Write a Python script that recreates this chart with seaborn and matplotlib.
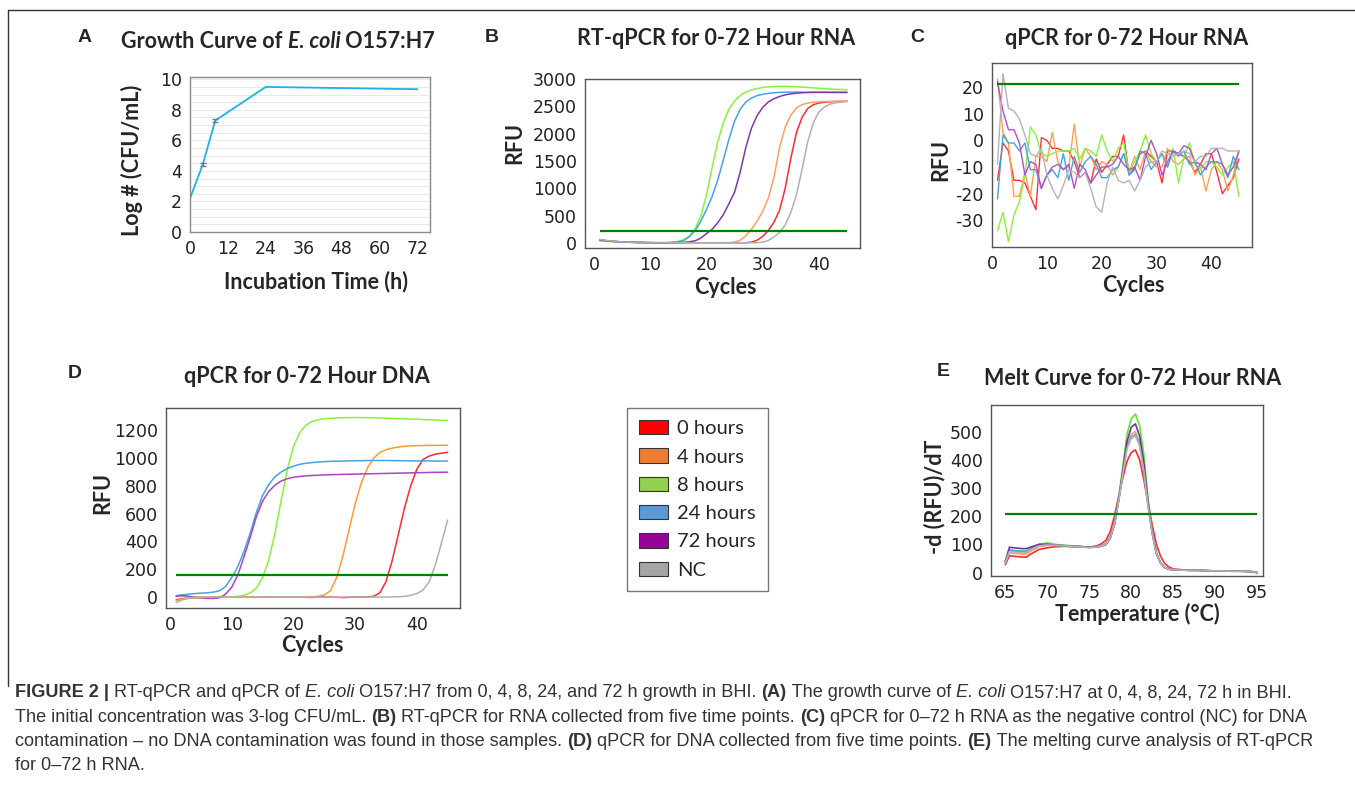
import numpy as np
import pandas as pd
import matplotlib
matplotlib.use("Agg")
import matplotlib.pyplot as plt
import seaborn as sns
from matplotlib import font_manager
from matplotlib.patches import Patch

# ---------------- data ----------------
samples = ["0 hours", "4 hours", "8 hours", "24 hours", "72 hours", "NC"]

# (A) growth curve
hours = [0, 4, 8, 24, 72]
log_cfu = [2.2, 4.4, 7.3, 9.5, 9.35]
log_err = [0.0, 0.1, 0.1, 0.0, 0.0]

cycles = list(range(1, 46))

# (B) RT-qPCR, RFU per cycle
b_0h = [55, 42, 32, 25, 19, 14, 11, 8, 6, 5, 4, 4, 4, 4, 4, 4, 4, 4, 4, 4,
        4, 4, 4, 4, 4, 4, 5, 15, 50, 120, 230, 380, 600, 1000, 1550, 2020, 2300, 2460, 2530, 2560,
        2575, 2583, 2588, 2590, 2592]
b_4h = [45, 35, 27, 21, 16, 12, 10, 8, 6, 5, 4, 4, 4, 4, 4, 4, 4, 4, 4, 4,
        4, 4, 4, 5, 15, 50, 130, 250, 400, 580, 820, 1200, 1750, 2120, 2340, 2470, 2530, 2560, 2575, 2582,
        2587, 2590, 2592, 2593, 2593]
b_8h = [40, 32, 26, 22, 18, 15, 12, 10, 8, 6, 5, 5, 6, 12, 28, 60, 130, 260, 500, 880,
        1380, 1850, 2200, 2450, 2600, 2700, 2760, 2800, 2825, 2845, 2855, 2862, 2865, 2865, 2862, 2858, 2852, 2845, 2838, 2830,
        2823, 2817, 2812, 2808, 2805]
b_24h = [50, 38, 30, 24, 19, 15, 12, 10, 8, 6, 5, 5, 6, 10, 22, 48, 120, 230, 400, 610,
         850, 1150, 1520, 1900, 2230, 2450, 2580, 2650, 2695, 2720, 2737, 2748, 2755, 2758, 2760, 2760, 2759, 2758, 2757, 2756,
         2755, 2754, 2753, 2752, 2752]
b_72h = [60, 45, 34, 26, 20, 15, 12, 10, 8, 6, 5, 5, 5, 6, 8, 12, 22, 40, 90, 170,
         250, 370, 520, 720, 930, 1300, 1750, 2100, 2330, 2480, 2580, 2640, 2680, 2710, 2728, 2740, 2748, 2752, 2755, 2756,
         2757, 2757, 2757, 2757, 2757]
b_nc = [65, 48, 36, 27, 20, 15, 11, 8, 6, 5, 4, 4, 4, 4, 4, 4, 4, 4, 4, 4,
        4, 4, 4, 4, 4, 4, 4, 4, 5, 15, 45, 110, 190, 330, 560, 880, 1350, 1850, 2200, 2400,
        2490, 2540, 2565, 2580, 2590]
b_threshold = 215

# (C) qPCR of RNA (no DNA), RFU per cycle
c_0h = [-15, -1, -4, -15, -15, -16, -21, -26, 1, 0, -3, -3, -4, -4, -8, -14, -12, -16, -7, -12,
        -9, -6, -6, 2, -13, -10, -5, -4, -6, -8, -16, -4, -4, -5, -6, -8, -12, -9, -5, -5,
        -12, -20, -17, -14, -7]
c_4h = [23, 3, -1, -21, -21, -12, -21, -6, -6, -8, 3, -8, -11, -10, 6, -10, -3, -6, -11, -8,
        -9, -13, -10, -5, -12, -6, -11, -4, -8, -10, -10, -3, -8, -9, -7, -6, -13, -10, -19, -11,
        -8, -11, -19, -13, -4]
c_8h = [-34, -27, -38, -28, -23, -13, 5, 2, -5, -6, -5, -4, -4, -4, -3, -7, -3, -4, -6, 2,
        -4, -8, -3, -1, -12, -8, -4, 2, -5, -8, -5, -10, -3, -16, -6, -1, -9, -11, -8, -8,
        -10, -13, -10, -8, -21]
c_24h = [-22, 2, -1, -1, -4, -1, -11, -11, -18, -13, -11, -14, -5, -15, -6, -12, -8, -6, -9, -14,
         -14, -11, -10, -5, -13, -11, -4, -5, -11, -8, -5, -10, -4, -6, -4, -9, -8, -13, -10, -8,
         -8, -9, -14, -6, -11]
c_72h = [22, 11, 4, 4, -1, -13, -8, -9, -18, -13, -10, -9, -11, -9, -18, -9, -11, -16, -13, -10,
         -10, -9, -6, -9, -11, -10, -15, -6, 0, -5, -13, -8, -4, -5, -2, -3, -8, -9, -11, -5,
         -3, -9, -13, -10, -4]
c_nc = [-9, 25, 12, 11, 8, 2, -5, -6, -3, -13, -18, -22, -17, -11, -12, -14, -12, -18, -25, -27,
        -16, -10, -15, -16, -15, -19, -15, -10, -8, -8, -4, -5, -6, -5, -4, -5, -8, -6, -6, -3,
        -3, -3, -4, -4, -4]
c_threshold = 21

# (D) qPCR of DNA, RFU per cycle
d_0h = [-20, -12, -6, -3, -2, -1, 0, 0, 1, 0, 0, 1, 0, -1, 0, 1, 0, 0, 0, 1,
        0, -2, -3, -1, 0, 0, -2, -4, -2, 0, 0, 1, 5, 30, 110, 260, 450, 640, 800, 920,
        990, 1015, 1028, 1036, 1042]
d_4h = [-25, -15, -8, -5, -3, -2, -1, 0, 0, 0, 0, 0, 1, 1, 0, -1, 0, 1, 0, 0,
        0, 1, 2, 5, 15, 45, 140, 290, 480, 670, 820, 930, 1000, 1040, 1060, 1072, 1080, 1085, 1088, 1090,
        1091, 1092, 1092, 1093, 1093]
d_8h = [5, 3, 0, -2, -3, -3, -2, -1, 0, 0, 5, 12, 30, 65, 140, 266, 457, 693, 917, 1082,
        1183, 1237, 1264, 1276, 1283, 1287, 1290, 1291, 1292, 1292, 1292, 1291, 1290, 1289, 1288, 1286, 1285, 1283, 1281, 1280,
        1278, 1276, 1275, 1273, 1272]
d_24h = [10, 15, 20, 25, 28, 30, 35, 45, 75, 140, 220, 330, 460, 610, 730, 810, 865, 900, 925, 942,
         955, 963, 968, 972, 975, 977, 978, 979, 980, 981, 982, 983, 983, 983, 983, 982, 982, 981, 981, 980,
         980, 980, 979, 979, 979]
d_72h = [5, 12, 5, -2, -6, -10, -10, -6, 20, 70, 160, 290, 430, 580, 690, 760, 805, 835, 852, 862,
         868, 872, 875, 877, 879, 881, 882, 883, 884, 885, 886, 887, 888, 889, 890, 891, 892, 893, 894, 895,
         896, 897, 898, 898, 899]
d_nc = [-40, -20, -10, -5, -3, -2, -1, 0, 0, 0, 0, 0, 0, 0, 0, 0, 0, 0, 0, 0,
        0, 0, 0, 0, 0, 0, -2, -1, 0, 0, 0, 0, 0, 0, 0, 1, 2, 5, 12, 25,
        50, 110, 230, 390, 555]
d_threshold = 160

# (E) melt curve, -d(RFU)/dT
temps = [65, 65.5, 66, 67, 67.5, 68, 69, 70, 71, 72, 73, 74, 75, 76,
         76.5, 77, 77.5, 78, 78.5, 79, 79.5, 80, 80.5, 81, 81.5, 82, 82.5, 83, 83.5, 84, 84.5, 85,
         86, 87, 88, 89, 90, 91, 92, 93, 94, 94.5, 95]
e_0h = [28, 60, 58, 55, 55, 65, 82, 88, 92, 93, 92, 91, 90, 96,
        103, 115, 145, 200, 270, 335, 395, 425, 435, 400, 330, 245, 170, 100, 58, 32, 20, 13,
        10, 9, 8, 7, 6, 6, 5, 5, 4, 3, 0]
e_4h = [35, 70, 68, 66, 66, 75, 92, 97, 96, 95, 93, 91, 89, 91,
        95, 102, 125, 172, 255, 355, 450, 490, 500, 460, 370, 240, 140, 68, 34, 18, 12, 10,
        9, 8, 8, 7, 6, 6, 5, 5, 4, 3, 0]
e_8h = [38, 80, 78, 76, 76, 85, 100, 105, 100, 97, 95, 93, 90, 92,
        96, 102, 125, 175, 265, 375, 490, 545, 562, 520, 420, 265, 150, 70, 35, 18, 12, 10,
        9, 8, 8, 7, 6, 6, 5, 5, 4, 3, 0]
e_24h = [37, 80, 78, 75, 75, 83, 97, 100, 98, 96, 94, 92, 89, 91,
         95, 101, 123, 170, 255, 355, 445, 480, 490, 455, 365, 240, 140, 68, 34, 18, 12, 10,
         9, 8, 8, 7, 6, 6, 5, 5, 4, 3, 0]
e_72h = [40, 90, 88, 85, 85, 90, 100, 100, 97, 95, 93, 92, 90, 91,
         94, 100, 122, 170, 255, 360, 465, 515, 527, 485, 390, 250, 145, 68, 34, 18, 12, 10,
         9, 8, 8, 7, 6, 6, 5, 5, 4, 3, 0]
e_nc = [36, 75, 73, 70, 70, 80, 95, 98, 97, 95, 93, 91, 89, 91,
        95, 101, 123, 170, 252, 350, 440, 475, 485, 450, 362, 238, 140, 68, 34, 18, 12, 10,
        9, 8, 8, 7, 6, 6, 5, 5, 4, 3, 0]
e_threshold = 206

legend_colors = ["#ff0000", "#ed7d31", "#92d050", "#5b9bd5", "#990099", "#a5a5a5"]


def long_df(x, series, yname):
    return pd.DataFrame({
        "x": list(x) * len(series),
        yname: sum(series, []),
        "sample": np.repeat(samples, len(x)),
    })


dfB = long_df(cycles, [b_0h, b_4h, b_8h, b_24h, b_72h, b_nc], "rfu")
dfC = long_df(cycles, [c_0h, c_4h, c_8h, c_24h, c_72h, c_nc], "rfu")
dfD = long_df(cycles, [d_0h, d_4h, d_8h, d_24h, d_72h, d_nc], "rfu")
dfE = long_df(temps, [e_0h, e_4h, e_8h, e_24h, e_72h, e_nc], "drfu")

# ---------------- figure ----------------
sns.set_style("white")
plt.rcParams["font.family"] = ["Lato", "DejaVu Sans"]
plt.rcParams["axes.unicode_minus"] = False

W, H = 1355, 789
fig = plt.figure(figsize=(W / 100, H / 100), dpi=100)
renderer = fig.canvas.get_renderer()

TITLE_FS = 15.5
LABEL_FS = 15.5


def px(x, y):
    return x / W, 1 - y / H


def add_box(left, top, right, bottom):
    return fig.add_axes([left / W, 1 - bottom / H, (right - left) / W, (bottom - top) / H])


def style_ax(ax, spine="#555555"):
    for s in ax.spines.values():
        s.set_color(spine)
        s.set_linewidth(1.0)
    ax.tick_params(direction="out", length=4, width=1, color=spine, pad=2, labelcolor="#222222",
                   labelsize=12.5)
    for lab in ax.get_xticklabels() + ax.get_yticklabels():
        lab.set_family(["DejaVu Sans"])


def run_width(txt, **kw):
    t = fig.text(0, 0, "|" + txt + "|", **kw)
    w1 = t.get_window_extent(renderer).width
    t.remove()
    t = fig.text(0, 0, "||", **kw)
    w2 = t.get_window_extent(renderer).width
    t.remove()
    return w1 - w2


def draw_runs(x, y, runs, center=False, **kw):
    widths = [run_width(s, fontweight=wt, fontstyle=st, **kw) for s, wt, st in runs]
    if center:
        x -= sum(widths) / 2
    for (s, wt, st), w in zip(runs, widths):
        fig.text(x / W, 1 - y / H, s, fontweight=wt, fontstyle=st, va="baseline", **kw)
        x += w
    return sum(widths)


def axis_labels(ax, box, xl, xc, yl, yc, fs=LABEL_FS):
    left, top, right, bottom = box
    ax.set_xlabel(xl, fontsize=fs, fontweight="bold", va="center")
    ax.set_ylabel(yl, fontsize=fs, fontweight="bold", va="center")
    ax.xaxis.set_label_coords((xc[0] - left) / (right - left), (bottom - xc[1]) / (bottom - top))
    ax.yaxis.set_label_coords((yc[0] - left) / (right - left), (bottom - yc[1]) / (bottom - top))


# frame lines around the figure panels
fig.add_artist(plt.Line2D([8 / W, 1], [1 - 10 / H, 1 - 10 / H], color="#333333", lw=1))
fig.add_artist(plt.Line2D([8 / W, 8 / W], [1 - 10 / H, 1 - 686 / H], color="#333333", lw=1))

# panel letters
for letter, (lx, ly) in zip("ABCDE", [(85, 37), (492, 37), (917, 38), (75, 373), (943, 372)]):
    fig.text(*px(lx, ly), letter, fontsize=14, fontweight="bold",
             family=["Liberation Sans", "DejaVu Sans"], ha="center", va="center")

# ---- A: growth curve ----
boxA = (190, 77, 430, 232)
axA = add_box(*boxA)
sns.lineplot(x=hours, y=log_cfu, ax=axA, color="#1fb0ea", lw=1.3)
err_idx = [i for i, e in enumerate(log_err) if e > 0]
axA.errorbar([hours[i] for i in err_idx], [log_cfu[i] for i in err_idx], yerr=[log_err[i] for i in err_idx],
             fmt="none", ecolor="#777777", elinewidth=0.8, capsize=2)
axA.set_xlim(0, 76)
axA.set_ylim(0, 10.15)
axA.set_xticks(range(0, 73, 12))
axA.set_yticks(range(0, 11, 2))
axA.set_yticks(np.arange(0, 10.1, 0.5), minor=True)
axA.grid(True, which="both", axis="y", color="#e8e8e8", lw=0.7)
axA.tick_params(which="minor", length=0)
style_ax(axA, "#8a8a8a")
axis_labels(axA, boxA, "Incubation Time (h)", (316, 282), "Log # (CFU/mL)", (132, 160))
draw_runs(278, 48, [("Growth Curve of ", "bold", "normal"),
                    ("E. coli", "bold", "italic"),
                    (" O157:H7", "bold", "normal")], center=True, fontsize=TITLE_FS)

# ---- B: RT-qPCR ----
boxB = (585, 79, 860, 248)
axB = add_box(*boxB)
palB = ["#ff2a2a", "#ff9f60", "#86f53a", "#42a5e0", "#7a3aae", "#b0b0b0"]
sns.lineplot(data=dfB, x="x", y="rfu", hue="sample", hue_order=samples, palette=palB,
             ax=axB, legend=False, lw=1.1, estimator=None)
axB.hlines(b_threshold, cycles[0], cycles[-1], color="#008000", lw=1.6)
axB.set_xlim(-1.6, 47.3)
axB.set_ylim(-92, 3000)
axB.set_xticks(range(0, 41, 10))
axB.set_yticks(range(0, 3001, 500))
style_ax(axB)
axis_labels(axB, boxB, "Cycles", (725, 287), "RFU", (515, 143))
fig.text(*px(716, 45), "RT-qPCR for 0-72 Hour RNA", fontsize=TITLE_FS, fontweight="bold", ha="center", va="baseline")

# ---- C: qPCR RNA ----
boxC = (992, 63, 1252, 247)
axC = add_box(*boxC)
palC = ["#ff3030", "#ffa050", "#86f53a", "#42a5e0", "#b050d0", "#b4b4b4"]
sns.lineplot(data=dfC, x="x", y="rfu", hue="sample", hue_order=samples, palette=palC,
             ax=axC, legend=False, lw=1.0, estimator=None)
axC.hlines(c_threshold, cycles[0], cycles[-1], color="#008000", lw=1.6)
axC.set_xlim(0, 47.4)
axC.set_ylim(-40, 29)
axC.set_xticks(range(0, 41, 10))
axC.set_yticks(range(-30, 21, 10))
style_ax(axC)
axis_labels(axC, boxC, "Cycles", (1133, 285), "RFU", (941, 160))
fig.text(*px(1127, 45), "qPCR for 0-72 Hour RNA", fontsize=TITLE_FS, fontweight="bold", ha="center", va="baseline")

# ---- D: qPCR DNA ----
boxD = (166, 408, 460, 608)
axD = add_box(*boxD)
palD = ["#ff2a2a", "#ff9a30", "#86f53a", "#42a5e0", "#b040c8", "#b0b0b0"]
sns.lineplot(data=dfD, x="x", y="rfu", hue="sample", hue_order=samples, palette=palD,
             ax=axD, legend=False, lw=1.1, estimator=None)
axD.hlines(d_threshold, cycles[0], cycles[-1], color="#008000", lw=1.6)
axD.set_xlim(-0.65, 47.0)
axD.set_ylim(-79, 1361)
axD.set_xticks(range(0, 41, 10))
axD.set_yticks(range(0, 1201, 200))
style_ax(axD)
axis_labels(axD, boxD, "Cycles", (312, 645), "RFU", (103, 493))
fig.text(*px(307, 383), "qPCR for 0-72 Hour DNA", fontsize=TITLE_FS, fontweight="bold", ha="center", va="baseline")

# ---- E: melt curve ----
boxE = (991, 405, 1263, 576)
axE = add_box(*boxE)
palE = ["#ff2a2a", "#ffa060", "#5ee62a", "#42a5e0", "#7030a0", "#b4b4b4"]
sns.lineplot(data=dfE, x="x", y="drfu", hue="sample", hue_order=samples, palette=palE,
             ax=axE, legend=False, lw=1.2, estimator=None)
axE.hlines(e_threshold, temps[0], temps[-1], color="#008000", lw=1.6)
axE.set_xlim(63.3, 95.7)
axE.set_ylim(-12, 594)
axE.set_xticks(range(65, 96, 5))
axE.set_yticks(range(0, 501, 100))
style_ax(axE)
axis_labels(axE, boxE, "Temperature (°C)", (1137, 614), "-d (RFU)/dT", (935, 497))
fig.text(*px(1133, 385), "Melt Curve for 0-72 Hour RNA", fontsize=TITLE_FS, fontweight="bold", ha="center", va="baseline")

# ---- shared legend ----
handles = [Patch(facecolor=c, edgecolor="#333333", lw=0.8, label=s) for s, c in zip(samples, legend_colors)]
leg = fig.legend(handles=handles, loc="upper left", bbox_to_anchor=px(627, 408), frameon=True,
                 fancybox=False, edgecolor="#555555", fontsize=14.5, handlelength=1.45, handleheight=0.72,
                 handletextpad=0.45, labelspacing=0.55, borderpad=0.6, borderaxespad=0)
leg.get_frame().set_linewidth(1.0)

# ---- caption ----
try:
    font_manager.findfont("Liberation Sans Narrow", fallback_to_default=False)
    cap_family = ["Liberation Sans Narrow", "DejaVu Sans"]
except ValueError:
    cap_family = ["Liberation Sans", "DejaVu Sans"]

N, B, I = "normal", "bold", "italic"
caption = [
    [("FIGURE 2 |", B, N), (" RT-qPCR and qPCR of ", N, N), ("E. coli", N, I),
     (" O157:H7 from 0, 4, 8, 24, and 72 h growth in BHI. ", N, N), ("(A)", B, N),
     (" The growth curve of ", N, N), ("E. coli", N, I), (" O157:H7 at 0, 4, 8, 24, 72 h in BHI.", N, N)],
    [("The initial concentration was 3-log CFU/mL. ", N, N), ("(B)", B, N),
     (" RT-qPCR for RNA collected from five time points. ", N, N), ("(C)", B, N),
     (" qPCR for 0\u201372 h RNA as the negative control (NC) for DNA", N, N)],
    [("contamination \u2013 no DNA contamination was found in those samples. ", N, N), ("(D)", B, N),
     (" qPCR for DNA collected from five time points. ", N, N), ("(E)", B, N),
     (" The melting curve analysis of RT-qPCR", N, N)],
    [("for 0\u201372 h RNA.", N, N)],
]
# pick the size so that the longest lines end where the reference lines end
targets = [1316, 1303, 1307]
cap_size = min(
    10 * t / sum(run_width(s, fontweight=wt, fontstyle=st, fontsize=10, family=cap_family) for s, wt, st in line)
    for line, t in zip(caption, targets))
for line, base in zip(caption, [697, 722, 746, 770]):
    draw_runs(15, base, line, fontsize=cap_size, family=cap_family, color="#333333")

fig.savefig("out.png", dpi=100)
